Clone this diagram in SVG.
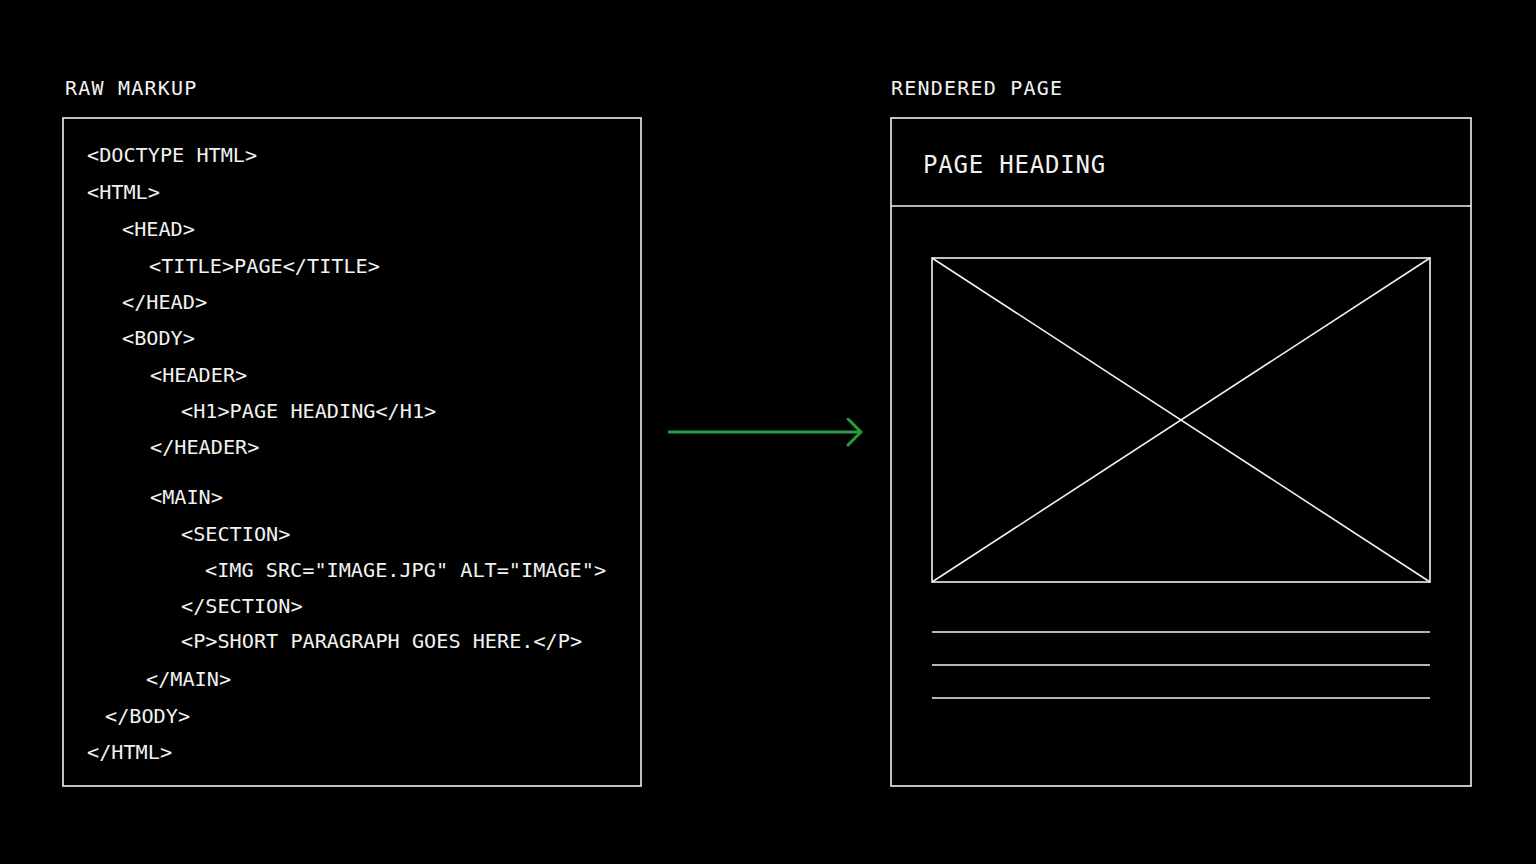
<svg xmlns="http://www.w3.org/2000/svg" width="1536" height="864" viewBox="0 0 1536 864">
<style>
.box{fill:none;stroke:#f2f2f2;stroke-width:1.6}
.ln{stroke:#f2f2f2;stroke-width:1.6;fill:none}
.code{font-family:"DejaVu Sans Mono","Liberation Mono",monospace;font-size:20.2px;fill:#f2f2f2}
.hdr{font-family:"DejaVu Sans Mono","Liberation Mono",monospace;font-size:20px;fill:#f2f2f2;letter-spacing:1.2px}
.ph{font-family:"DejaVu Sans Mono","Liberation Mono",monospace;font-size:24px;fill:#f2f2f2;letter-spacing:0.8px}
</style>
<defs>
<marker id="arr" markerWidth="20" markerHeight="30" refX="16" refY="14" orient="auto" markerUnits="userSpaceOnUse">
<path d="M3,1 L16,14 L3,27" fill="none" stroke="#22a03e" stroke-width="3" stroke-linecap="round" stroke-linejoin="round"/>
</marker>
</defs>
<rect width="1536" height="864" fill="#000"/>
<g id="raw-markup">
<text class="hdr" x="65" y="95">RAW MARKUP</text>
<rect class="box" x="63" y="118" width="578" height="668"/>
<text class="code" x="87" y="162">&lt;DOCTYPE HTML&gt;</text>
<text class="code" x="87" y="199">&lt;HTML&gt;</text>
<text class="code" x="122" y="236">&lt;HEAD&gt;</text>
<text class="code" x="149" y="273">&lt;TITLE&gt;PAGE&lt;/TITLE&gt;</text>
<text class="code" x="122" y="309">&lt;/HEAD&gt;</text>
<text class="code" x="122" y="345">&lt;BODY&gt;</text>
<text class="code" x="150" y="382">&lt;HEADER&gt;</text>
<text class="code" x="181" y="418">&lt;H1&gt;PAGE HEADING&lt;/H1&gt;</text>
<text class="code" x="150" y="454">&lt;/HEADER&gt;</text>
<text class="code" x="150" y="504">&lt;MAIN&gt;</text>
<text class="code" x="181" y="541">&lt;SECTION&gt;</text>
<text class="code" x="205" y="577">&lt;IMG SRC="IMAGE.JPG" ALT="IMAGE"&gt;</text>
<text class="code" x="181" y="613">&lt;/SECTION&gt;</text>
<text class="code" x="181" y="648">&lt;P&gt;SHORT PARAGRAPH GOES HERE.&lt;/P&gt;</text>
<text class="code" x="146" y="686">&lt;/MAIN&gt;</text>
<text class="code" x="105" y="723">&lt;/BODY&gt;</text>
<text class="code" x="87" y="759">&lt;/HTML&gt;</text>
</g>
<g id="rendered-page">
<text class="hdr" x="891" y="95">RENDERED PAGE</text>
<rect class="box" x="891" y="118" width="580" height="668"/>
<line class="ln" x1="891" y1="206" x2="1471" y2="206"/>
<text class="ph" x="923" y="173">PAGE HEADING</text>
<rect class="box" x="932" y="258" width="498" height="324"/>
<line class="ln" x1="932" y1="258" x2="1430" y2="582"/>
<line class="ln" x1="1430" y1="258" x2="932" y2="582"/>
<line class="ln" x1="932" y1="632" x2="1430" y2="632"/>
<line class="ln" x1="932" y1="665" x2="1430" y2="665"/>
<line class="ln" x1="932" y1="698" x2="1430" y2="698"/>
</g>
<g id="connectors">
<line x1="668" y1="432" x2="861" y2="432" stroke="#22a03e" stroke-width="3" marker-end="url(#arr)"/>
</g>
</svg>
